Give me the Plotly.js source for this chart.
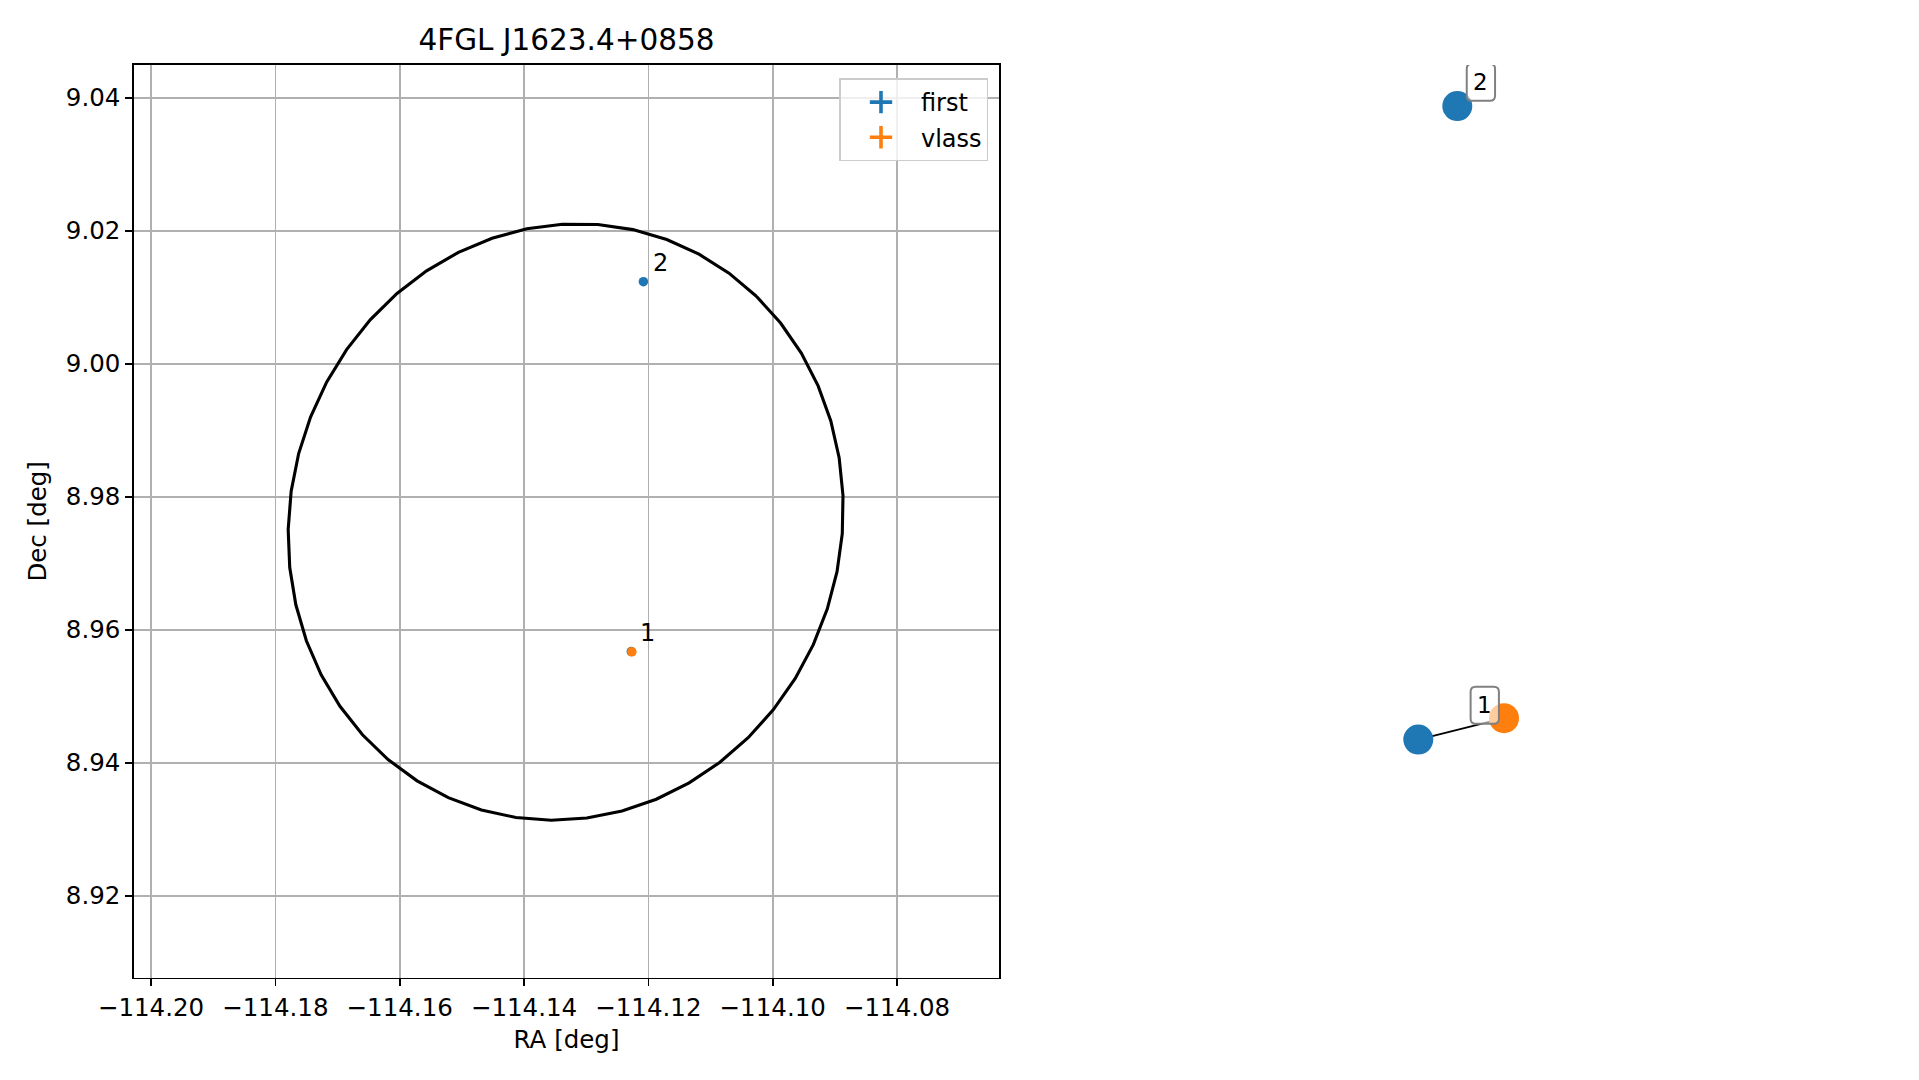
<!DOCTYPE html>
<html>
<head>
<meta charset="utf-8">
<script src="https://cdn.plot.ly/plotly-3.0.1.min.js"></script>
<style>html,body{margin:0;padding:0;background:#fff;}#chart{width:1919px;height:1080px;}</style>
</head>
<body>
<div id="chart"></div>
<script>
// ---------------- data ----------------
const chartTitle = '4FGL J1623.4+0858';
const catalogNames = ['first', 'vlass'];
const catalogColors = ['#1f77b4', '#ff7f0e'];

const firstRA = [-114.12275, -114.1208];
const firstDec = [8.95672, 9.01233];
const firstLabels = ['1', '2'];

const vlassRA = [-114.12266];
const vlassDec = [8.95667];
const vlassLabels = ['1'];

// Fermi 95% error ellipse
const ellCenterRA = -114.1333;
const ellCenterDec = 8.9762;
const ellSemiMajor = 0.04575;
const ellSemiMinor = 0.04373;
const ellAngleDeg = 47.9;
const ellVertices = 50;

const xTicks = [-114.20, -114.18, -114.16, -114.14, -114.12, -114.10, -114.08];
const yTicks = [8.92, 8.94, 8.96, 8.98, 9.00, 9.02, 9.04];

// association graph (right panel)
const nodeCatalog = ['first', 'first', 'vlass'];
const nodeGroup = ['1', '2', '1'];
const nodeX = [-0.139, -0.009, 0.1467];
const nodeY = [-0.4781, 0.9101, -0.4314];
const edgeFrom = [0];
const edgeTo = [2];

// ---------------- build ----------------
const FONT = 'DejaVu Sans, Liberation Sans, sans-serif';
const traces = [];

// ellipse contour
const ellX = [], ellY = [];
const th = ellAngleDeg * Math.PI / 180;
for (let k = 0; k < ellVertices; k++) {
  const t = 2 * Math.PI * k / (ellVertices - 1);
  const u = ellSemiMajor * Math.cos(t), v = ellSemiMinor * Math.sin(t);
  ellX.push(ellCenterRA + u * Math.cos(th) - v * Math.sin(th));
  ellY.push(ellCenterDec + u * Math.sin(th) + v * Math.cos(th));
}
traces.push({x: ellX, y: ellY, mode: 'lines', line: {color: '#000', width: 3.1},
  showlegend: false, hoverinfo: 'skip', xaxis: 'x', yaxis: 'y'});

// source points
const srcRA = [firstRA, vlassRA], srcDec = [firstDec, vlassDec];
catalogNames.forEach((nm, i) => {
  traces.push({x: srcRA[i], y: srcDec[i], mode: 'markers', name: nm,
    marker: {color: catalogColors[i], size: 9.5}, showlegend: false, xaxis: 'x', yaxis: 'y'});
});
// legend proxies (errorbar style)
catalogNames.forEach((nm, i) => {
  traces.push({x: [null], y: [null], mode: 'markers', name: nm, legendgroup: nm,
    marker: {symbol: 'cross-thin', size: 16, color: catalogColors[i], line: {color: catalogColors[i], width: 3.6}},
    showlegend: true, xaxis: 'x', yaxis: 'y'});
});

// graph edges
edgeFrom.forEach((a, i) => {
  const b = edgeTo[i];
  traces.push({x: [nodeX[a], nodeX[b]], y: [nodeY[a], nodeY[b]], mode: 'lines',
    line: {color: '#000', width: 1.8}, showlegend: false, hoverinfo: 'skip', xaxis: 'x2', yaxis: 'y2'});
});
// graph nodes
traces.push({x: nodeX, y: nodeY, mode: 'markers',
  marker: {size: 30, color: nodeCatalog.map(c => catalogColors[catalogNames.indexOf(c)])},
  text: nodeGroup, showlegend: false, xaxis: 'x2', yaxis: 'y2'});

// annotations + rounded label boxes
const annotations = [];
const shapes = [];
firstLabels.forEach((lb, i) => {
  annotations.push({x: firstRA[i], y: firstDec[i], xref: 'x', yref: 'y', text: lb, showarrow: false,
    xanchor: 'center', yanchor: 'middle', xshift: 16.7, yshift: 18.4,
    font: {family: FONT, size: 24, color: '#000'}});
});
function roundedBox(cx, cy, w, h, r) {
  const x0 = cx - w / 2, x1 = cx + w / 2, y0 = cy - h / 2, y1 = cy + h / 2;
  return `M${x0 + r},${y0} L${x1 - r},${y0} Q${x1},${y0} ${x1},${y0 + r} L${x1},${y1 - r} Q${x1},${y1} ${x1 - r},${y1} ` +
         `L${x0 + r},${y1} Q${x0},${y1} ${x0},${y1 - r} L${x0},${y0 + r} Q${x0},${y0} ${x0 + r},${y0} Z`;
}
const groups = [...new Set(nodeGroup)];
groups.forEach(g => {
  let sx = 0, sy = 0, n = 0;
  nodeGroup.forEach((ng, i) => { if (ng === g) { sx += nodeX[i]; sy += nodeY[i]; n++; } });
  const cx = sx / n, cy = sy / n;
  shapes.push({type: 'path', xref: 'x2', yref: 'y2', xsizemode: 'pixel', ysizemode: 'pixel',
    xanchor: cx, yanchor: cy, path: roundedBox(23.6, 23.7, 28.3, 37, 5),
    line: {color: 'rgba(128,128,128,1)', width: 2}, fillcolor: 'rgba(255,255,255,0.6)', layer: 'above'});
  annotations.push({x: cx, y: cy, xref: 'x2', yref: 'y2', text: g, showarrow: false,
    xanchor: 'center', yanchor: 'middle', xshift: 23.6, yshift: 23.7,
    font: {family: FONT, size: 23, color: '#000'}});
});

const W = 1919, H = 1080;
const axL = 134, axR = 999, axT = 65, axB = 977.7;
const xDom = [axL / W, axR / W];
const yDom = [1 - axB / H, 1 - axT / H];

const axCommon = {
  showline: true, mirror: true, linecolor: '#000', linewidth: 1.7,
  ticks: 'outside', ticklen: 7, tickwidth: 1.7, tickcolor: '#000',
  showgrid: true, gridcolor: '#b0b0b0', gridwidth: 1.7, zeroline: false,
  tickfont: {family: FONT, size: 24.5, color: '#000'}, tickformat: '.2f'
};

const layout = {
  width: W, height: H,
  margin: {l: 0, r: 0, t: 0, b: 0},
  paper_bgcolor: '#fff', plot_bgcolor: '#fff',
  font: {family: FONT, color: '#000'},
  title: {text: chartTitle, font: {family: FONT, size: 29.5, color: '#000'},
    xref: 'paper', x: (axL + axR) / 2 / W, xanchor: 'center', yref: 'paper', y: 1 - 40 / H, yanchor: 'middle'},
  xaxis: Object.assign({}, axCommon, {domain: xDom, range: [-114.20274, -114.0636],
    tickvals: xTicks, title: {text: 'RA [deg]', font: {family: FONT, size: 24.5, color: '#000'}, standoff: 10},
    anchor: 'y'}),
  yaxis: Object.assign({}, axCommon, {domain: yDom, range: [8.90767, 9.04492],
    tickvals: yTicks, title: {text: 'Dec [deg]', font: {family: FONT, size: 24.5, color: '#000'}, standoff: 12},
    anchor: 'x'}),
  xaxis2: {domain: [1160 / W, 1760 / W], range: [-1, 1], visible: false, anchor: 'y2'},
  yaxis2: {domain: yDom, range: [-1, 1], visible: false, anchor: 'x2'},
  showlegend: true,
  legend: {x: 988.3 / W, xanchor: 'right', y: 1 - 78.3 / H, yanchor: 'top',
    bgcolor: 'rgba(255,255,255,0.8)', bordercolor: '#cccccc', borderwidth: 1.7,
    font: {family: FONT, size: 24, color: '#000'}, itemwidth: 70,
    traceorder: 'grouped', tracegroupgap: 1},
  shapes: shapes,
  annotations: annotations
};

Plotly.newPlot('chart', traces, layout, {displayModeBar: false, staticPlot: true});
</script>
</body>
</html>
